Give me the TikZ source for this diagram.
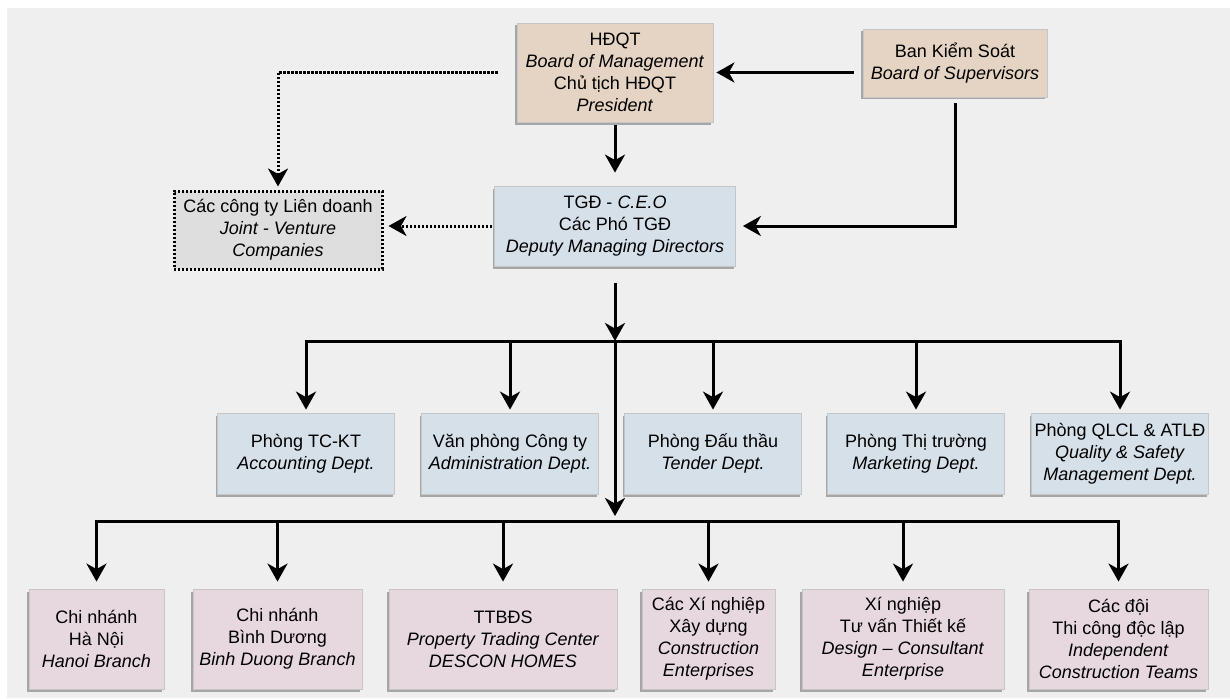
\documentclass[tikz,border=0pt]{standalone}
\usepackage{fontspec}
\setmainfont{Liberation Sans}
\usetikzlibrary{arrows.meta, positioning, shadows}

\definecolor{bgcol}{RGB}{239,239,239}
\definecolor{boardcol}{RGB}{229,212,195}
\definecolor{deptcol}{RGB}{214,224,233}
\definecolor{unitcol}{RGB}{231,216,224}
\definecolor{jvcol}{RGB}{222,222,222}

\begin{document}
\begin{tikzpicture}[x=1pt, y=-1pt,
    box/.style={rectangle, align=center, inner sep=0pt, draw=gray!45, line width=0.8pt,
      font=\fontsize{18}{22}\selectfont,
      drop shadow={shadow xshift=-2pt, shadow yshift=-2.5pt, fill=gray!70, opacity=1}},
    boardbox/.style={box, fill=boardcol},
    deptbox/.style={box, fill=deptcol, minimum width=177pt, minimum height=81pt},
    unitbox/.style={box, fill=unitcol, minimum height=100pt},
    jvbox/.style={rectangle, align=center, inner sep=0pt, fill=jvcol, draw=black,
      line width=3pt, dash pattern=on 2.2pt off 1.8pt,
      font=\fontsize{18}{22}\selectfont},
    arr/.style={line width=3pt, -{Stealth[length=18pt, width=20pt, inset=5.5pt]}},
    dotarr/.style={arr, dash pattern=on 2.2pt off 1.8pt},
    link/.style={line width=3pt, line cap=rect}]

    % page and background
    \useasboundingbox (0,0) rectangle (1230,698);
    \fill[white] (0,0) rectangle (1230,698);
    \fill[bgcol] (7,8) rectangle (1230,698);

    % Board and supervisors
    \node[boardbox, minimum width=196pt, minimum height=99pt] (hdqt) at (615,72.5)
      {HĐQT\\ \textit{Board of Management}\\ Chủ tịch HĐQT\\ \textit{President}};
    \node[boardbox, minimum width=184pt, minimum height=68pt] (bks) at (955,63)
      {Ban Kiểm Soát\\ \textit{Board of Supervisors}};

    % CEO and joint ventures
    \node[deptbox, minimum width=241pt, minimum height=80pt] (tgd) at (615,226)
      {TGĐ - \textit{C.E.O}\\ Các Phó TGĐ\\ \textit{Deputy Managing Directors}};
    \node[jvbox, minimum width=208pt, minimum height=78pt] (lienduong) at (278,230)
      {Các công ty Liên doanh\\ \textit{Joint - Venture}\\ \textit{Companies}};

    % Departments
    \node[deptbox] (tckt) at (306,453.5) {Phòng TC-KT\\ \textit{Accounting Dept.}};
    \node[deptbox] (vanphong) at (510,453.5) {Văn phòng Công ty\\ \textit{Administration Dept.}};
    \node[deptbox] (dauthau) at (713,453.5) {Phòng Đấu thầu\\ \textit{Tender Dept.}};
    \node[deptbox] (thitruong) at (916,453.5) {Phòng Thị trường\\ \textit{Marketing Dept.}};
    \node[deptbox] (qlcl) at (1120,453.5)
      {Phòng QLCL \& ATLĐ\\ \textit{Quality \& Safety}\\ \textit{Management Dept.}};

    % Branches and enterprises
    \node[unitbox, minimum width=135pt] (hanoi) at (96.5,639)
      {Chi nhánh\\ Hà Nội\\ \textit{Hanoi Branch}};
    \node[unitbox, minimum width=169pt] (binhduong) at (277.5,639)
      {Chi nhánh\\ Bình Dương\\ \textit{Binh Duong Branch}};
    \node[unitbox, minimum width=228pt] (ttbds) at (503,639)
      {TTBĐS\\ \textit{Property Trading Center}\\ \textit{DESCON HOMES}};
    \node[unitbox, minimum width=133pt] (xaydung) at (708.5,639)
      {Các Xí nghiệp\\ Xây dựng\\ \textit{Construction}\\ \textit{Enterprises}};
    \node[unitbox, minimum width=202pt] (thietke) at (903,639)
      {Xí nghiệp\\ Tư vấn Thiết kế\\ \textit{Design – Consultant}\\ \textit{Enterprise}};
    \node[unitbox, minimum width=179pt] (doithicong) at (1118.5,639)
      {Các đội\\ Thi công độc lập\\ \textit{Independent}\\ \textit{Construction Teams}};

    % Top links
    \draw[arr, shorten <=9pt, shorten >=3pt] (bks.west |- hdqt.east) -- (hdqt.east);
    \draw[arr, shorten <=3pt, shorten >=13pt] (hdqt.south) -- (tgd.north);
    \draw[arr, shorten <=6pt, shorten >=7pt] (bks.south) |- (tgd.east);

    % Joint ventures (dotted)
    \draw[dotarr, shorten <=19pt, shorten >=3pt] (hdqt.west) -| (lienduong.north);
    \draw[dotarr, shorten <=2pt, shorten >=5pt] (tgd.west) -- (tgd.west -| lienduong.east);

    % Departments bus
    \coordinate (bus1) at (615,341);
    \coordinate (bus2) at (615,521);
    \draw[arr, shorten <=17pt] (tgd.south) -- (bus1);
    \draw[link] (tckt.north |- bus1) -- (qlcl.north |- bus1);
    \foreach \d in {tckt, vanphong, dauthau, thitruong, qlcl}
      \draw[arr, shorten >=3pt] (\d.north |- bus1) -- (\d.north);
    \draw[arr, shorten >=5pt] (bus1) -- (bus2);

    % Branches bus
    \draw[link] (hanoi.north |- bus2) -- (doithicong.north |- bus2);
    \foreach \u in {hanoi, binhduong, ttbds, xaydung, thietke, doithicong}
      \draw[arr, shorten >=7pt] (\u.north |- bus2) -- (\u.north);
\end{tikzpicture}
\end{document}
